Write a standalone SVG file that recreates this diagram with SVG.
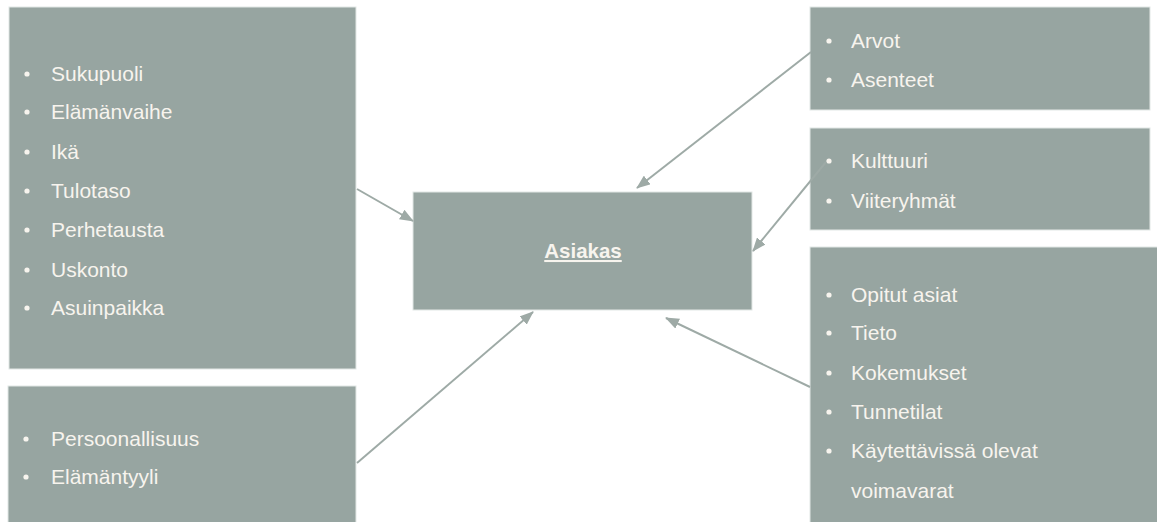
<svg xmlns="http://www.w3.org/2000/svg" width="1157" height="522" viewBox="0 0 1157 522">
  <defs>
    <style>
      .box { fill: #97a5a1; stroke: #e2e7e5; stroke-width: 1; }
      .item { font-family: "Liberation Sans", Arial, sans-serif; font-size: 21px; fill: #f7f4ee; }
      .dot { fill: #f7f4ee; }
      .title { font-family: "Liberation Sans", Arial, sans-serif; font-size: 20.5px; font-weight: bold; fill: #f7f4ee; text-decoration: underline; }
      .conn { stroke: #9eaaa6; stroke-width: 2; fill: none; marker-end: url(#head); }
    </style>
    <marker id="head" viewBox="0 0 14 11" refX="13" refY="5.5" markerWidth="14" markerHeight="11" markerUnits="userSpaceOnUse" orient="auto">
      <path d="M0,0 L14,5.5 L0,11 Z" fill="#9eaaa6"/>
    </marker>
  </defs>

  <rect width="1157" height="522" fill="#ffffff"/>

  <!-- Demographic factors -->
  <g id="node-demographics">
    <rect class="box" x="9" y="7" width="347" height="362"/>
    <circle class="dot" cx="27" cy="74" r="2.6"/>
    <text class="item" x="51" y="81">Sukupuoli</text>
    <circle class="dot" cx="27" cy="112" r="2.6"/>
    <text class="item" x="51" y="119">Elämänvaihe</text>
    <circle class="dot" cx="27" cy="152" r="2.6"/>
    <text class="item" x="51" y="159">Ikä</text>
    <circle class="dot" cx="27" cy="191" r="2.6"/>
    <text class="item" x="51" y="198">Tulotaso</text>
    <circle class="dot" cx="27" cy="230" r="2.6"/>
    <text class="item" x="51" y="237">Perhetausta</text>
    <circle class="dot" cx="27" cy="270" r="2.6"/>
    <text class="item" x="51" y="277">Uskonto</text>
    <circle class="dot" cx="27" cy="308" r="2.6"/>
    <text class="item" x="51" y="315">Asuinpaikka</text>
  </g>

  <!-- Personal factors -->
  <g id="node-personal">
    <rect class="box" x="8" y="386" width="348" height="140"/>
    <circle class="dot" cx="26" cy="439" r="2.6"/>
    <text class="item" x="51" y="446">Persoonallisuus</text>
    <circle class="dot" cx="26" cy="477" r="2.6"/>
    <text class="item" x="51" y="484">Elämäntyyli</text>
  </g>

  <!-- Central node -->
  <g id="node-asiakas">
    <rect class="box" x="413" y="192" width="339" height="118"/>
    <text class="title" x="583" y="258" text-anchor="middle">Asiakas</text>
  </g>

  <!-- Values and attitudes -->
  <g id="node-values">
    <rect class="box" x="810" y="7" width="340" height="103"/>
    <circle class="dot" cx="829" cy="41" r="2.6"/>
    <text class="item" x="851" y="48">Arvot</text>
    <circle class="dot" cx="829" cy="80" r="2.6"/>
    <text class="item" x="851" y="87">Asenteet</text>
  </g>

  <!-- Social factors -->
  <g id="node-social">
    <rect class="box" x="810" y="128" width="340" height="102"/>
    <circle class="dot" cx="829" cy="161" r="2.6"/>
    <text class="item" x="851" y="168">Kulttuuri</text>
    <circle class="dot" cx="829" cy="201" r="2.6"/>
    <text class="item" x="851" y="208">Viiteryhmät</text>
  </g>

  <!-- Psychological factors -->
  <g id="node-psychological">
    <rect class="box" x="810" y="247" width="350" height="280"/>
    <circle class="dot" cx="829" cy="295" r="2.6"/>
    <text class="item" x="851" y="302">Opitut asiat</text>
    <circle class="dot" cx="829" cy="333" r="2.6"/>
    <text class="item" x="851" y="340">Tieto</text>
    <circle class="dot" cx="829" cy="373" r="2.6"/>
    <text class="item" x="851" y="380">Kokemukset</text>
    <circle class="dot" cx="829" cy="412" r="2.6"/>
    <text class="item" x="851" y="419">Tunnetilat</text>
    <circle class="dot" cx="829" cy="451" r="2.6"/>
    <text class="item" x="851" y="458">Käytettävissä olevat</text>
    <text class="item" x="851" y="498">voimavarat</text>
  </g>

  <!-- Connectors -->
  <g id="connectors">
    <line class="conn" x1="357" y1="189" x2="413" y2="221"/>
    <line class="conn" x1="357" y1="463" x2="533" y2="312"/>
    <line class="conn" x1="811" y1="52" x2="637" y2="188"/>
    <line class="conn" x1="826" y1="162" x2="753" y2="251"/>
    <line class="conn" x1="810" y1="387" x2="666" y2="318"/>
  </g>
</svg>
